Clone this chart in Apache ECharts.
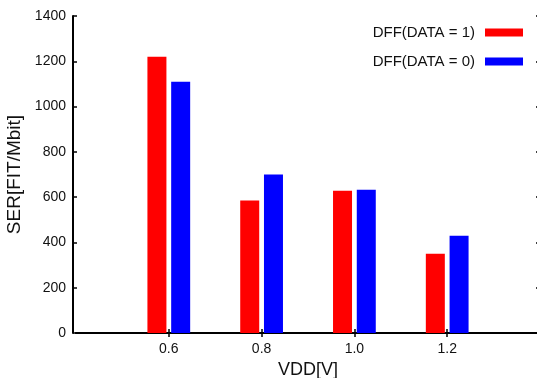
<!DOCTYPE html>
<html>
<head>
<meta charset="utf-8">
<script src="https://cdn.jsdelivr.net/npm/echarts@6/dist/echarts.min.js"></script>
<style>html,body{margin:0;padding:0;background:#fff}#c{width:537px;height:378px}</style>
</head>
<body>
<div id="c"></div>
<script>
var categories = ['', '0.6', '0.8', '1.0', '1.2', ''];
var data1 = [null, 1220, 585, 628, 350, null];
var data0 = [null, 1110, 700, 633, 430, null];
var yTicks = [0, 200, 400, 600, 800, 1000, 1200, 1400];

var FONT = 'Liberation Sans, Arial, Helvetica, sans-serif';
var chart = echarts.init(document.getElementById('c'));
var lineStyle = {color: '#000', width: 2};
function innerTick(i) { return categories[i] !== ''; }
chart.setOption({
  animation: false,
  backgroundColor: '#fff',
  grid: {left: 76, right: -3, top: 16, bottom: 45, containLabel: false, outerBoundsMode: 'none'},
  legend: {
    orient: 'vertical',
    right: 9,
    top: 19,
    align: 'right',
    itemWidth: 38,
    itemHeight: 8,
    itemGap: 12,
    icon: 'rect',
    textStyle: {fontFamily: FONT, fontSize: 15, color: '#111', lineHeight: 17, padding: [0, 5, 0, 0]},
    data: ['DFF(DATA = 1)', 'DFF(DATA = 0)']
  },
  xAxis: [{
    type: 'category',
    data: categories,
    boundaryGap: false,
    position: 'bottom',
    name: 'VDD[V]',
    nameLocation: 'middle',
    nameGap: 28,
    nameTextStyle: {fontFamily: FONT, fontSize: 18, color: '#111'},
    axisLine: {show: true, lineStyle: lineStyle},
    axisTick: {show: true, inside: true, length: 4, interval: innerTick, lineStyle: {color: '#000', width: 1.5}},
    axisLabel: {fontFamily: FONT, fontSize: 14, color: '#111', margin: 9, interval: 0},
    splitLine: {show: false}
  }, {
    type: 'category',
    data: categories,
    boundaryGap: false,
    position: 'top',
    axisLine: {show: true, lineStyle: lineStyle},
    axisTick: {show: true, inside: true, length: 4, interval: innerTick, lineStyle: {color: '#000', width: 1.5}},
    axisLabel: {show: false},
    splitLine: {show: false}
  }],
  yAxis: [{
    type: 'value',
    min: 0,
    max: 1400,
    interval: 200,
    position: 'left',
    offset: 3,
    name: 'SER[FIT/Mbit]',
    nameLocation: 'middle',
    nameGap: 38,
    nameTextStyle: {fontFamily: FONT, fontSize: 19, color: '#111'},
    axisLine: {show: true, lineStyle: lineStyle},
    axisTick: {show: true, inside: true, length: 4, lineStyle: {color: '#000', width: 1.5}},
    axisLabel: {fontFamily: FONT, fontSize: 14, color: '#111', margin: 7,
      formatter: function (v) { return yTicks.indexOf(v) >= 0 ? String(v) : ''; }},
    splitLine: {show: false}
  }, {
    type: 'value',
    min: 0,
    max: 1400,
    interval: 200,
    position: 'right',
    axisLine: {show: true, lineStyle: lineStyle},
    axisTick: {show: true, inside: true, length: 4, lineStyle: {color: '#000', width: 1.5}},
    axisLabel: {show: false},
    splitLine: {show: false}
  }],
  series: [{
    name: 'DFF(DATA = 1)',
    type: 'bar',
    data: data1,
    barWidth: 19,
    barGap: '25%',
    itemStyle: {color: '#ff0000'}
  }, {
    name: 'DFF(DATA = 0)',
    type: 'bar',
    data: data0,
    barWidth: 19,
    barGap: '25%',
    itemStyle: {color: '#0000ff'}
  }]
});
</script>
</body>
</html>
